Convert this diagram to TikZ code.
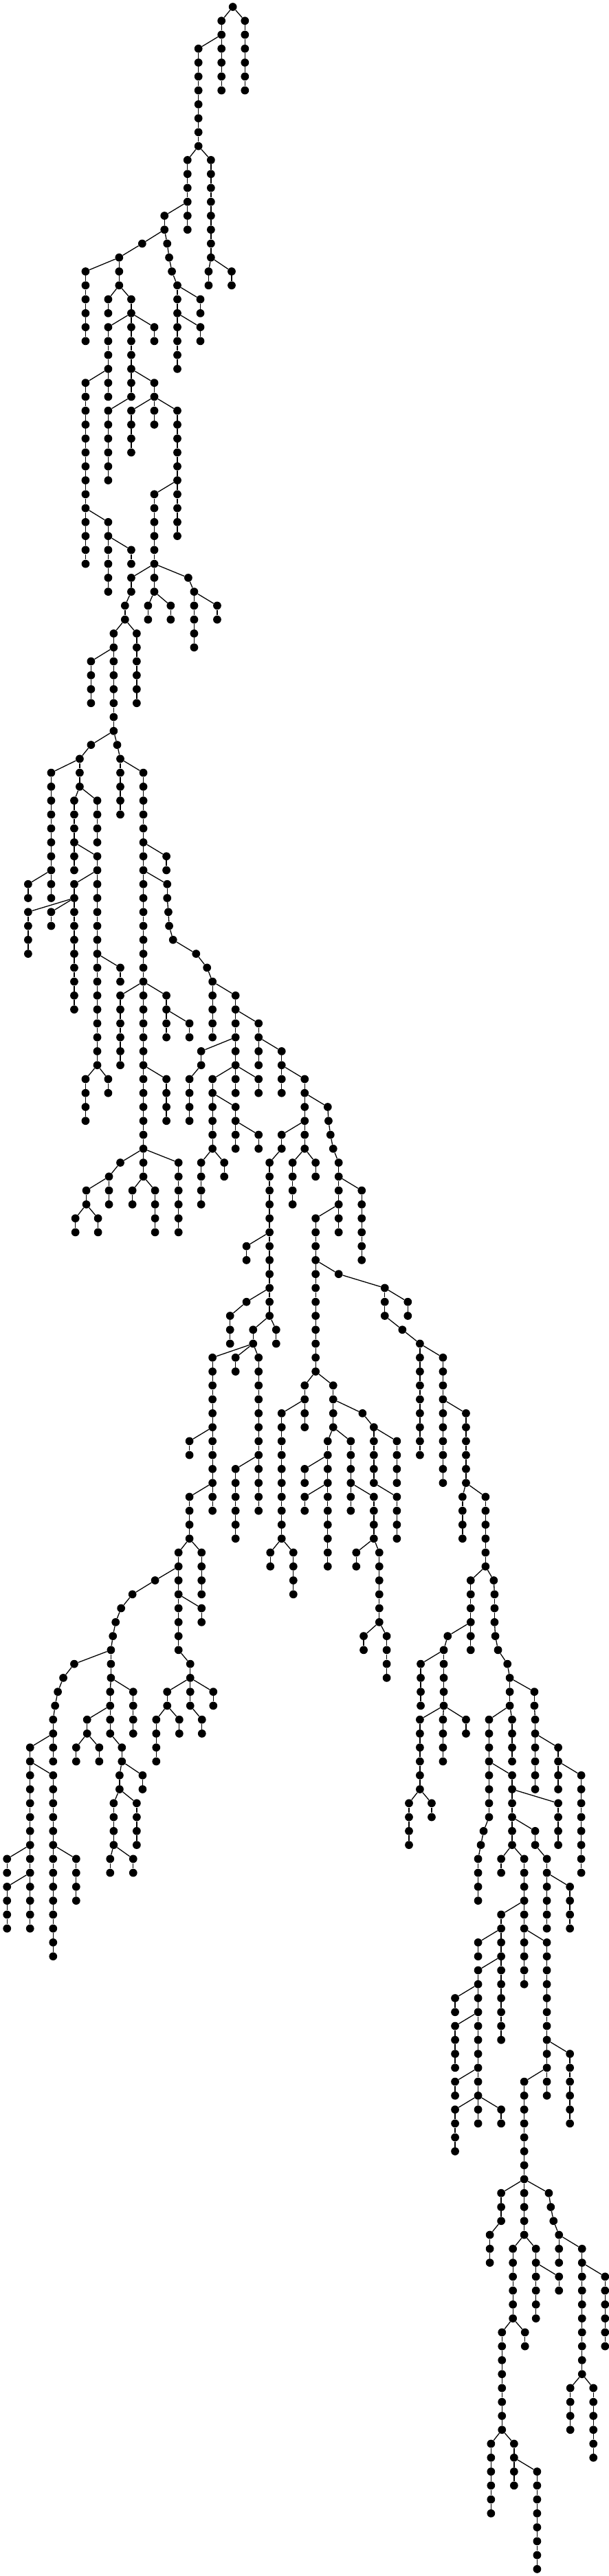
\documentclass[tikz,border=0pt]{standalone}
\usepackage{tikz}
\tikzset{
  treedot/.style={circle,fill=black,draw=none,inner sep=0pt,minimum size=2.35mm},
  treeedge/.style={line width=.26mm,black},
}
% #1 column of the parent, #2 column, #3 first level, #4 last level
\newcommand{\branch}[4]{%
  \foreach \l [evaluate=\l as \p using int(\l-1)] in {#3,...,#4} {
    \node[treedot] (v#2-\l) at (#2,\l) {};
    \ifnum\l=#3\relax
      \draw[treeedge] (v#1-\p) -- (v#2-\l);
    \else
      \draw[treeedge] (v#2-\p) -- (v#2-\l);
    \fi
  }%
}
\begin{document}
\begin{tikzpicture}[x=0.11366mm,y=-4.0532mm]
  \useasboundingbox (0,-0.4934) rectangle (1559,184.5);

  \node[treedot] (v596-0) at (596,0) {};
  \branch{596}{567}{1}{6}
  \branch{596}{627}{1}{6}
  \branch{567}{508}{3}{10}
  \branch{508}{480}{11}{16}
  \branch{508}{540}{11}{18}
  \branch{540}{534}{19}{20}
  \branch{540}{593}{19}{20}
  \branch{480}{421}{15}{16}
  \branch{421}{428}{17}{17}
  \branch{428}{433}{18}{18}
  \branch{433}{440}{19}{19}
  \branch{440}{454}{20}{26}
  \branch{454}{513}{21}{22}
  \branch{454}{513}{23}{24}

  % left side of the upper part
  \branch{421}{364}{17}{17}
  \branch{364}{305}{18}{20}
  \branch{305}{219}{19}{24}
  \branch{305}{277}{21}{22}
  \branch{305}{336}{21}{22}
  \branch{336}{277}{23}{28}
  \branch{336}{336}{23}{28}
  \branch{336}{395}{23}{24}
  \branch{277}{219}{27}{40}
  \branch{336}{395}{27}{28}
  \branch{336}{277}{29}{34}
  \branch{395}{336}{29}{32}
  \branch{395}{395}{29}{30}
  \branch{395}{454}{29}{38}
  \branch{454}{395}{35}{40}
  \branch{219}{277}{37}{42}
  \branch{277}{336}{39}{40}
  \branch{395}{336}{41}{42}
  \branch{395}{395}{41}{42}
  \branch{395}{482}{41}{41}
  \branch{482}{497}{42}{46}
  \branch{497}{556}{43}{44}
  \branch{395}{379}{43}{44}
  \branch{395}{437}{43}{44}
  \branch{336}{320}{43}{44}
  \branch{320}{291}{45}{52}
  \branch{320}{350}{45}{50}
  \branch{291}{233}{47}{50}
  \branch{291}{233}{53}{53}
  \branch{291}{300}{53}{53}
  \branch{233}{204}{54}{56}
  \branch{204}{131}{55}{62}
  \branch{131}{72}{63}{64}
  \branch{131}{131}{63}{64}
  \branch{204}{190}{57}{62}
  \branch{204}{249}{57}{60}
  \branch{190}{249}{61}{76}
  \branch{249}{190}{63}{72}
  \branch{190}{72}{65}{68}
  \branch{190}{131}{65}{66}
  \branch{249}{308}{69}{70}
  \branch{249}{219}{77}{80}
  \branch{249}{277}{77}{78}

  % middle
  \branch{300}{308}{54}{58}
  \branch{308}{367}{55}{82}
  \branch{367}{426}{61}{62}
  \branch{367}{308}{71}{76}
  \branch{367}{426}{71}{74}
  \branch{426}{485}{73}{74}
  \branch{367}{426}{77}{80}
  \branch{367}{308}{83}{83}
  \branch{308}{279}{84}{86}
  \branch{279}{221}{85}{86}
  \branch{221}{193}{87}{88}
  \branch{221}{251}{87}{88}
  \branch{367}{367}{83}{84}
  \branch{367}{339}{85}{86}
  \branch{367}{397}{85}{88}
  \branch{367}{457}{83}{88}
  \branch{367}{428}{63}{64}
  \branch{428}{431}{65}{65}
  \branch{431}{433}{66}{66}
  \branch{433}{443}{67}{67}
  \branch{443}{502}{68}{68}
  \branch{502}{530}{69}{69}
  \branch{530}{544}{70}{74}
  \branch{544}{603}{71}{76}
  \branch{603}{662}{73}{76}
  \branch{662}{721}{75}{78}
  \branch{721}{780}{77}{82}
  \branch{603}{515}{75}{76}
  \branch{515}{485}{77}{80}
  \branch{603}{544}{77}{82}
  \branch{603}{603}{77}{78}
  \branch{603}{662}{77}{78}
  \branch{544}{603}{79}{82}
  \branch{603}{662}{81}{82}
  \branch{544}{515}{83}{86}
  \branch{544}{574}{83}{84}
  \branch{780}{721}{81}{82}
  \branch{721}{690}{83}{94}
  \branch{690}{631}{89}{90}
  \branch{690}{631}{93}{93}
  \branch{631}{589}{94}{96}
  \branch{690}{648}{95}{96}
  \branch{690}{707}{95}{96}
  \branch{648}{544}{97}{108}
  \branch{648}{603}{97}{98}
  \branch{648}{662}{97}{108}
  \branch{544}{485}{103}{104}
  \branch{544}{485}{107}{110}
  \branch{662}{603}{105}{110}
  \branch{780}{749}{83}{86}
  \branch{780}{808}{83}{84}
  \branch{780}{839}{79}{79}
  \branch{839}{841}{80}{80}
  \branch{841}{846}{81}{81}
  \branch{846}{853}{82}{82}
  \branch{853}{867}{83}{88}
  \branch{867}{926}{85}{90}
  \branch{867}{808}{87}{98}
  \branch{808}{780}{99}{102}
  \branch{780}{721}{101}{110}
  \branch{721}{692}{111}{112}
  \branch{721}{751}{111}{114}
  \branch{808}{853}{99}{102}
  \branch{853}{928}{101}{101}
  \branch{928}{957}{102}{106}
  \branch{957}{1016}{103}{106}
  \branch{957}{1016}{107}{110}
  \branch{853}{839}{103}{112}
  \branch{853}{898}{103}{108}
  \branch{839}{780}{105}{106}
  \branch{839}{780}{107}{108}
  \branch{898}{957}{107}{110}
  \branch{957}{912}{111}{112}
  \branch{957}{971}{111}{116}
  \branch{971}{931}{117}{118}
  \branch{971}{990}{117}{120}

  % lower left
  \branch{485}{457}{111}{118}
  \branch{485}{516}{111}{114}
  \branch{457}{397}{113}{113}
  \branch{397}{339}{114}{114}
  \branch{339}{310}{115}{115}
  \branch{310}{296}{116}{116}
  \branch{296}{289}{117}{117}
  \branch{289}{284}{118}{120}
  \branch{457}{516}{115}{116}
  \branch{457}{487}{119}{120}
  \branch{487}{428}{121}{122}
  \branch{487}{487}{121}{122}
  \branch{487}{546}{121}{122}
  \branch{428}{400}{123}{126}
  \branch{428}{459}{123}{124}
  \branch{487}{517}{123}{124}
  \branch{284}{190}{119}{119}
  \branch{190}{162}{120}{120}
  \branch{162}{148}{121}{121}
  \branch{148}{141}{122}{122}
  \branch{141}{136}{123}{126}
  \branch{136}{77}{125}{132}
  \branch{77}{136}{127}{140}
  \branch{136}{195}{133}{136}
  \branch{77}{18}{133}{134}
  \branch{77}{77}{133}{138}
  \branch{77}{18}{135}{138}
  \branch{284}{282}{121}{122}
  \branch{284}{341}{121}{124}
  \branch{282}{223}{123}{124}
  \branch{223}{195}{125}{126}
  \branch{223}{254}{125}{126}
  \branch{282}{282}{123}{124}
  \branch{282}{312}{125}{126}
  \branch{312}{306}{127}{128}
  \branch{312}{365}{127}{128}
  \branch{306}{291}{129}{132}
  \branch{306}{350}{129}{132}
  \branch{291}{282}{133}{134}
  \branch{291}{341}{133}{134}

  % right side
  \branch{808}{867}{91}{91}
  \branch{867}{985}{92}{94}
  \branch{985}{1044}{93}{94}
  \branch{985}{1030}{95}{95}
  \branch{1030}{1075}{96}{104}
  \branch{1075}{1134}{97}{106}
  \branch{1134}{1193}{101}{106}
  \branch{1193}{1184}{107}{110}
  \branch{1193}{1243}{107}{112}
  \branch{1243}{1205}{113}{118}
  \branch{1205}{1146}{117}{117}
  \branch{1146}{1136}{118}{122}
  \branch{1136}{1077}{119}{122}
  \branch{1136}{1075}{123}{128}
  \branch{1136}{1134}{123}{126}
  \branch{1136}{1193}{123}{124}
  \branch{1075}{1047}{129}{132}
  \branch{1075}{1105}{129}{130}
  \branch{1243}{1264}{113}{113}
  \branch{1264}{1266}{114}{116}
  \branch{1266}{1268}{117}{117}
  \branch{1268}{1275}{118}{118}
  \branch{1275}{1299}{119}{119}
  \branch{1299}{1305}{120}{122}
  \branch{1305}{1368}{121}{122}
  \branch{1368}{1370}{123}{128}
  \branch{1370}{1429}{125}{128}
  \branch{1429}{1488}{127}{134}
  \branch{1305}{1252}{123}{130}
  \branch{1305}{1311}{123}{126}
  \branch{1252}{1311}{127}{132}
  \branch{1252}{1238}{131}{131}
  \branch{1238}{1231}{132}{132}
  \branch{1231}{1224}{133}{136}
  \branch{1311}{1429}{129}{132}
  \branch{1311}{1370}{131}{132}
  \branch{1370}{1400}{133}{138}
  \branch{1400}{1459}{135}{138}
  \branch{1311}{1283}{133}{134}
  \branch{1311}{1342}{133}{142}
  \branch{1342}{1283}{137}{146}
  \branch{1283}{1224}{139}{140}
  \branch{1283}{1224}{141}{150}
  \branch{1224}{1165}{143}{144}
  \branch{1224}{1165}{145}{148}
  \branch{1224}{1165}{149}{150}
  \branch{1224}{1165}{151}{154}
  \branch{1224}{1224}{151}{152}
  \branch{1224}{1283}{151}{152}
  \branch{1342}{1400}{139}{150}
  \branch{1400}{1459}{147}{152}
  \branch{1400}{1342}{149}{156}
  \branch{1342}{1283}{157}{159}
  \branch{1283}{1254}{160}{162}
  \branch{1342}{1342}{157}{160}
  \branch{1342}{1405}{157}{157}
  \branch{1405}{1410}{158}{158}
  \branch{1410}{1417}{159}{159}
  \branch{1417}{1431}{160}{162}
  \branch{1431}{1490}{161}{170}
  \branch{1490}{1549}{163}{168}
  \branch{1490}{1460}{171}{174}
  \branch{1490}{1519}{171}{176}
  \branch{1342}{1313}{161}{166}
  \branch{1342}{1372}{161}{166}
  \branch{1372}{1431}{163}{164}
  \branch{1313}{1285}{167}{174}
  \branch{1313}{1344}{167}{168}
  \branch{1285}{1257}{175}{180}
  \branch{1285}{1316}{175}{178}
  \branch{1316}{1375}{177}{184}
\end{tikzpicture}
\end{document}
